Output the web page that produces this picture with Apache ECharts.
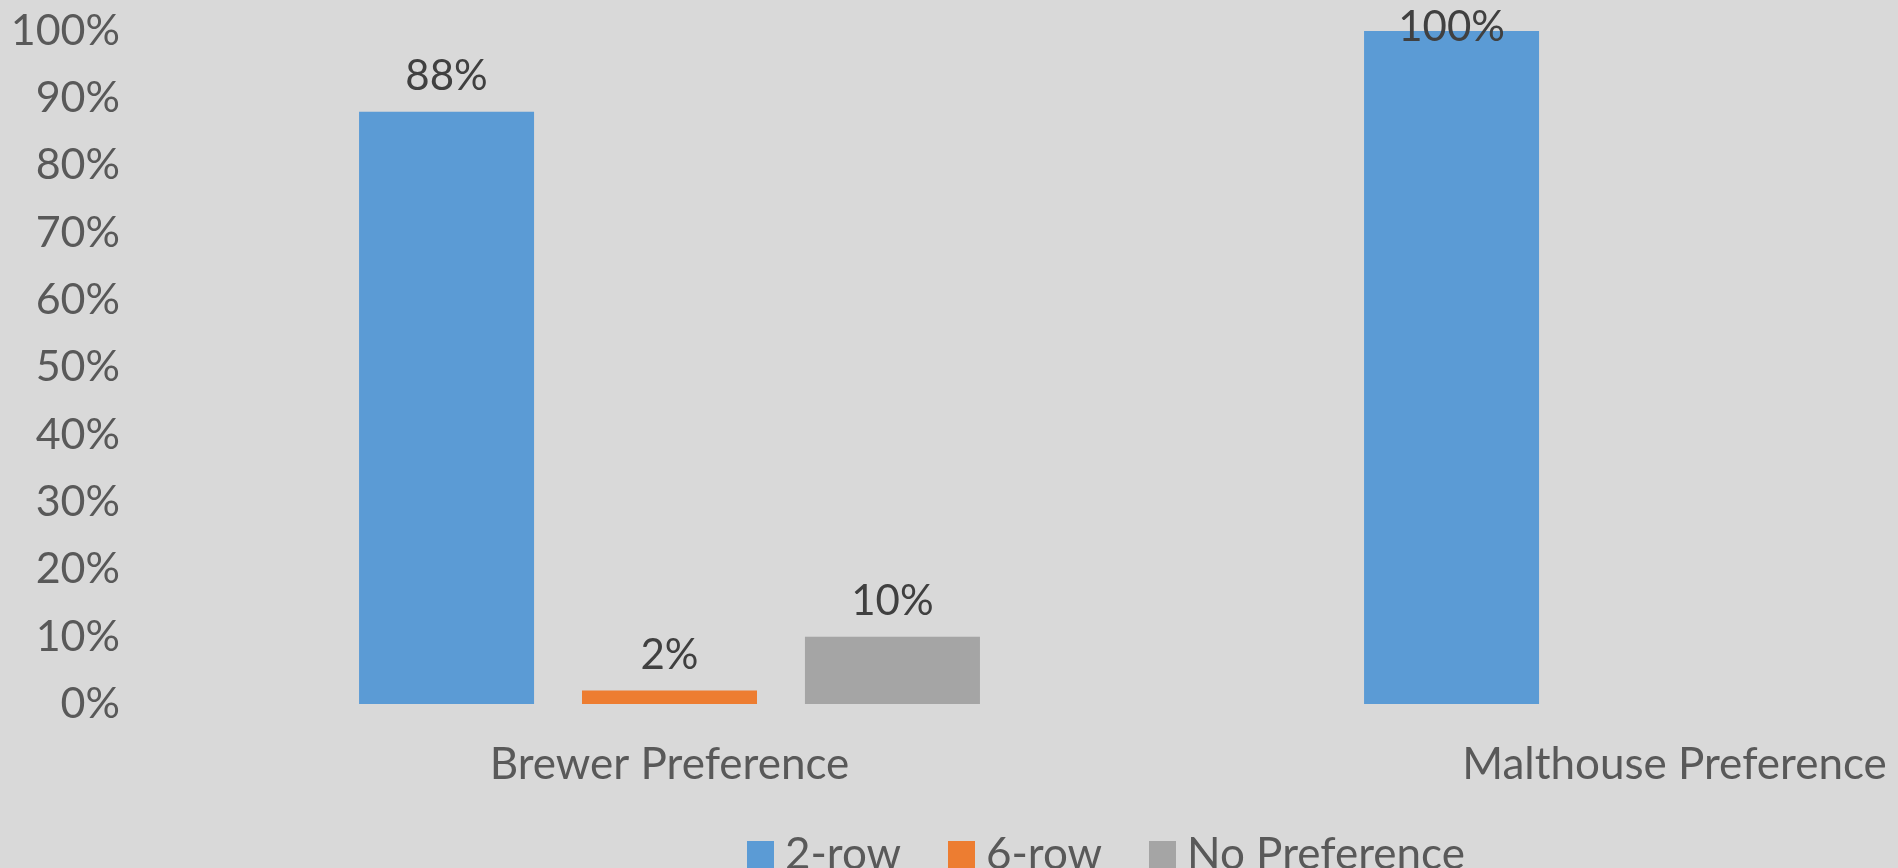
<!DOCTYPE html>
<html>
<head>
<meta charset="utf-8">
<script src="https://cdn.jsdelivr.net/npm/echarts@6/dist/echarts.min.js"></script>
<style>
html,body{margin:0;padding:0;background:#d9d9d9;}
#chart{width:1898px;height:868px;}
</style>
</head>
<body>
<div id="chart"></div>
<script>
const categories = ['Brewer Preference', 'Malthouse Preference'];
const seriesNames = ['2-row', '6-row', 'No Preference'];
const twoRow = [0.88, 1.00];
const sixRow = [0.02, null];
const noPref = [0.10, null];
const yTicks = [0, 0.1, 0.2, 0.3, 0.4, 0.5, 0.6, 0.7, 0.8, 0.9, 1.0];

const colors = ['#5b9bd5', '#ed7d31', '#a5a5a5'];
const FONT = 'Lato';
const pct = v => Math.round(v * 100) + '%';

function buildData(arr) {
  return arr.map(v => {
    if (v === null) return null;
    if (v >= 1) return { value: v, label: { offset: [0, 31] } };
    return v;
  });
}

const values = [twoRow, sixRow, noPref];
const chart = echarts.init(document.getElementById('chart'));
const legendLefts = [747, 948, 1149];

chart.setOption({
  backgroundColor: '#d9d9d9',
  animation: false,
  textStyle: { fontFamily: FONT },
  grid: { left: 167, top: 31, right: -279, bottom: 164, containLabel: false, outerBoundsMode: 'none' },
  legend: seriesNames.map((n, i) => ({
    data: [n],
    left: legendLefts[i],
    top: 833,
    itemWidth: 27,
    itemHeight: 28,
    icon: 'rect',
    padding: 0,
    selectedMode: false,
    textStyle: { fontFamily: FONT, fontSize: 44, color: '#595959', lineHeight: 28, padding: [0, 0, 0, 6] }
  })),
  xAxis: {
    type: 'category',
    data: categories,
    axisLine: { show: false },
    axisTick: { show: false },
    axisLabel: { fontFamily: FONT, fontSize: 44, color: '#595959', margin: 39, interval: 0 }
  },
  yAxis: {
    type: 'value',
    min: 0,
    max: 1,
    interval: 0.1,
    axisLine: { show: false },
    axisTick: { show: false },
    splitLine: { show: false },
    axisLabel: { fontFamily: FONT, fontSize: 43, color: '#595959', margin: 47, formatter: v => pct(v) }
  },
  series: seriesNames.map((n, i) => ({
    name: n,
    type: 'bar',
    data: buildData(values[i]),
    barWidth: 175,
    barGap: '27.4%',
    itemStyle: { color: colors[i] },
    label: {
      show: true,
      position: 'top',
      distance: 14,
      fontFamily: FONT,
      fontSize: 42,
      lineHeight: 42,
      color: '#404040',
      formatter: p => pct(p.value)
    }
  }))
});
</script>
</body>
</html>
